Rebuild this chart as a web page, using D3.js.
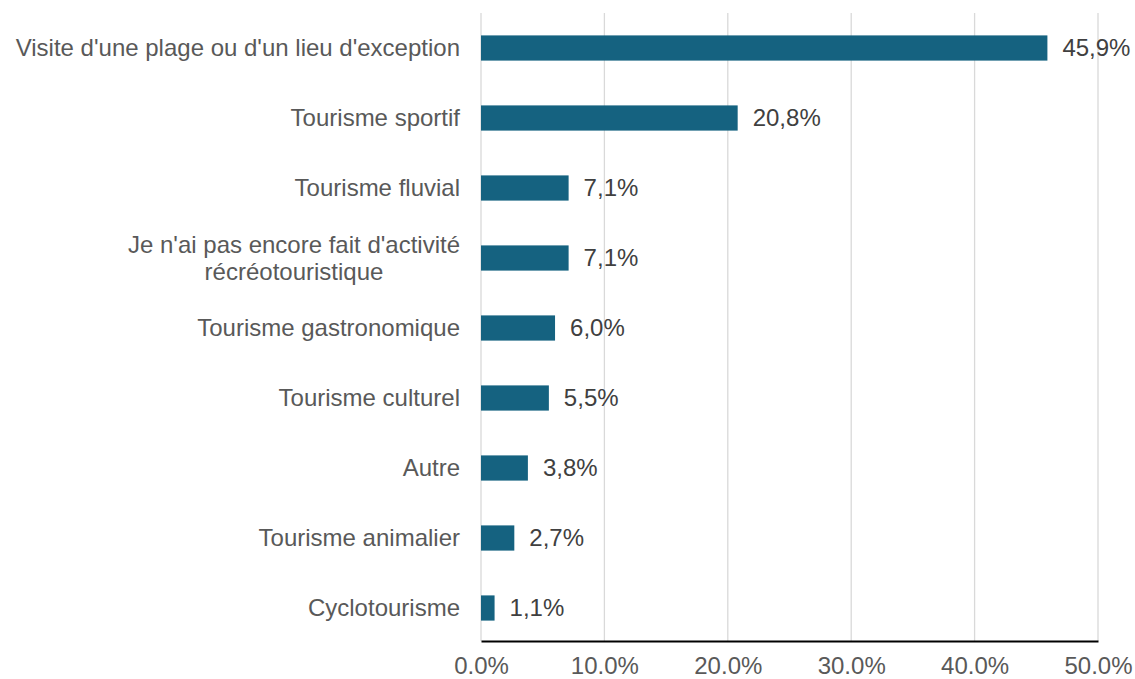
<!DOCTYPE html>
<html><head><meta charset="utf-8">
<script src="https://cdn.jsdelivr.net/npm/d3@7"></script>
<style>body{margin:0;background:#fff}text{font-family:"Liberation Sans",Arial,sans-serif}</style>
</head><body><svg id="c" width="1135" height="679"></svg>
<script>
const categories = [
  ["Visite d'une plage ou d'un lieu d'exception"],
  ["Tourisme sportif"],
  ["Tourisme fluvial"],
  ["Je n'ai pas encore fait d'activité", "récréotouristique"],
  ["Tourisme gastronomique"],
  ["Tourisme culturel"],
  ["Autre"],
  ["Tourisme animalier"],
  ["Cyclotourisme"]
];
const values = [45.9, 20.8, 7.1, 7.1, 6.0, 5.5, 3.8, 2.7, 1.1];
const ticks = [0, 10, 20, 30, 40, 50];

(function () {
const svg = d3.select("#c");
const FS = 24;
const mLeft = 481, mRight = 1098, mTop = 13, mBottom = 643;
const x = d3.scaleLinear().domain([0, 50]).range([mLeft, mRight]);
const y = d3.scaleBand().domain(d3.range(categories.length)).range([mTop, mBottom]).paddingInner(0.64).paddingOuter(0.32);
const fmt = v => v.toFixed(1).replace(".", ",") + "%";

// gridlines
svg.append("g").selectAll("line").data(ticks).join("line")
  .attr("x1", d => x(d)).attr("x2", d => x(d))
  .attr("y1", mTop).attr("y2", 641)
  .attr("stroke", "#d9d9d9").attr("stroke-width", 1.3);

// bars
svg.append("g").selectAll("rect").data(values).join("rect")
  .attr("x", x(0)).attr("y", (d, i) => y(i))
  .attr("width", d => x(d) - x(0)).attr("height", y.bandwidth())
  .attr("fill", "#156280");

// value labels
svg.append("g").selectAll("text").data(values).join("text")
  .attr("x", d => x(d) + 15).attr("y", (d, i) => y(i) + y.bandwidth() / 2)
  .attr("dy", "0.35em").attr("font-size", FS).attr("fill", "#404040")
  .text(fmt);

// category labels
const cg = svg.append("g");
categories.forEach((lines, i) => {
  const cy = y(i) + y.bandwidth() / 2;
  if (lines.length === 1) {
    cg.append("text").attr("x", 460).attr("y", cy).attr("dy", "0.35em")
      .attr("text-anchor", "end").attr("font-size", FS).attr("fill", "#595959").text(lines[0]);
  } else {
    const t1 = cg.append("text").attr("x", 460).attr("y", cy - 13).attr("dy", "0.35em")
      .attr("text-anchor", "end").attr("font-size", FS).attr("fill", "#595959").text(lines[0]);
    const w = t1.node().getComputedTextLength();
    cg.append("text").attr("x", 460 - w / 2).attr("y", cy + 14).attr("dy", "0.35em")
      .attr("text-anchor", "middle").attr("font-size", FS).attr("fill", "#595959").text(lines[1]);
  }
});

// x axis
const ax = svg.append("g").attr("transform", "translate(0,641)")
  .call(d3.axisBottom(x).tickValues(ticks).tickSize(0).tickPadding(16).tickFormat(d => d.toFixed(1) + "%"));
ax.select(".domain").attr("stroke", "#000").attr("stroke-width", 2.2);
ax.selectAll("text").attr("font-size", FS).attr("fill", "#595959").attr("font-family", "Liberation Sans, Arial, sans-serif");
})();
</script>
</body></html>
